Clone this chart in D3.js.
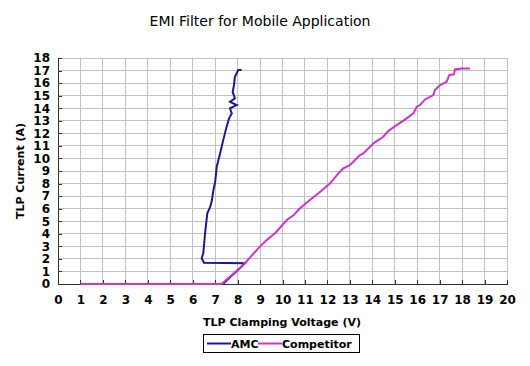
<!DOCTYPE html>
<html>
<head>
<meta charset="utf-8">
<script src="https://cdn.jsdelivr.net/npm/d3@7"></script>
<style>
body { margin: 0; background: #fff; }
text { font-family: "DejaVu Sans", Verdana, sans-serif; }
</style>
</head>
<body>
<svg id="chart" width="530" height="366"></svg>
<script>
// TLP curves: [voltage, current]
const amcData = [
    [7.35, 0], [7.7, 0.6], [8.0, 1.1], [8.33, 1.65], [6.5, 1.7], [6.4, 2.05],
    [6.47, 2.44], [6.5, 2.97], [6.55, 4.04], [6.6, 4.83], [6.65, 5.63], [6.77, 6.1],
    [6.85, 6.6], [6.92, 7.48], [7.0, 8.1], [7.07, 9.34], [7.22, 10.4], [7.36, 11.46],
    [7.51, 12.52], [7.62, 13.2], [7.74, 13.59], [7.66, 13.99], [7.96, 14.25], [7.66, 14.5],
    [7.88, 14.78], [7.78, 15.3], [7.84, 15.84], [7.88, 16.5], [8.03, 17.04], [8.18, 17.04]
]
const competitorData = [
    [1, 0], [7.29, 0], [7.6, 0.5], [8.0, 1.1], [8.25, 1.51], [8.5, 2.0], [8.8, 2.6],
    [9.0, 3.0], [9.3, 3.5], [9.7, 4.1], [10.19, 5.1], [10.5, 5.5], [10.78, 6.03],
    [11.22, 6.69], [11.6, 7.22], [12.12, 8.02], [12.49, 8.81], [12.71, 9.21], [13.0, 9.47],
    [13.45, 10.27], [13.6, 10.4], [14.05, 11.2], [14.49, 11.73], [14.71, 12.18],
    [15.09, 12.66], [15.53, 13.19], [15.83, 13.59], [15.98, 14.12], [16.12, 14.25],
    [16.35, 14.7], [16.72, 15.05], [16.79, 15.45], [17.02, 15.84], [17.31, 16.1],
    [17.43, 16.64], [17.64, 16.7], [17.68, 17.09], [17.98, 17.17], [18.35, 17.17]
]
const xTicks = d3.range(0, 21)
const yTicks = d3.range(0, 19)
const seriesNames = ["AMC", "Competitor"]
const seriesColors = ["#1a1a8c", "#cc33cc"]

const svg = d3.select('#chart')
const mLeft = 58, mRight = 507, mTop = 58, mBottom = 284

const x = d3.scaleLinear().domain([0, 20]).range([mLeft, mRight])
const y = d3.scaleLinear().domain([0, 18]).range([mBottom, mTop])

// grid
svg.append('g').selectAll('line').data(xTicks.slice(1)).enter().append('line')
    .attr('x1', d => x(d)).attr('x2', d => x(d))
    .attr('y1', mTop).attr('y2', mBottom)
    .attr('stroke', '#c0c0c0').attr('shape-rendering', 'crispEdges')
svg.append('g').selectAll('line').data(yTicks.slice(1)).enter().append('line')
    .attr('x1', mLeft).attr('x2', mRight)
    .attr('y1', d => y(d)).attr('y2', d => y(d))
    .attr('stroke', '#c0c0c0').attr('shape-rendering', 'crispEdges')

// axes
const xAxis = svg.append('g')
    .attr('transform', `translate(0, ${mBottom})`)
    .call(d3.axisBottom(x).tickValues(xTicks).tickSizeInner(-4).tickSizeOuter(0).tickPadding(11))
const yAxis = svg.append('g')
    .attr('transform', `translate(${mLeft}, 0)`)
    .call(d3.axisLeft(y).tickValues(yTicks).tickSizeInner(-4).tickSizeOuter(0).tickPadding(8))

for (const ax of [xAxis, yAxis]) {
    ax.select('.domain').attr('stroke', '#333').attr('shape-rendering', 'crispEdges')
    ax.selectAll('.tick line').attr('stroke', '#333').attr('shape-rendering', 'crispEdges')
    ax.selectAll('.tick text').attr('fill', '#000')
        .style('font-size', '12px').style('font-weight', 'bold')
        .style('font-family', '"DejaVu Sans", Verdana, sans-serif')
}

const line = d3.line().x(d => x(d[0])).y(d => y(d[1]))

svg.append('path').datum(amcData)
    .attr('d', line).attr('fill', 'none')
    .attr('stroke', seriesColors[0]).attr('stroke-width', 2)
svg.append('path').datum(competitorData)
    .attr('d', line).attr('fill', 'none')
    .attr('stroke', seriesColors[1]).attr('stroke-width', 2)

// titles
svg.append('text').attr('x', 260).attr('y', 26)
    .attr('text-anchor', 'middle').style('font-size', '14px')
    .text('EMI Filter for Mobile Application')

svg.append('text').attr('x', 282).attr('y', 326)
    .attr('text-anchor', 'middle').style('font-size', '11px').style('font-weight', 'bold')
    .text('TLP Clamping Voltage (V)')

svg.append('text').attr('transform', `translate(24, 171) rotate(-90)`)
    .attr('text-anchor', 'middle').style('font-size', '11px').style('font-weight', 'bold')
    .text('TLP Current (A)')

// legend
const legend = svg.append('g')
legend.append('rect').attr('x', 203.5).attr('y', 334.5).attr('width', 156).attr('height', 18)
    .attr('fill', '#fff').attr('stroke', '#000')
const legendX = [207, 258]
seriesNames.forEach((name, i) => {
    legend.append('line')
        .attr('x1', legendX[i]).attr('x2', legendX[i] + 24)
        .attr('y1', 343.5).attr('y2', 343.5)
        .attr('stroke', seriesColors[i]).attr('stroke-width', 2)
    legend.append('text').attr('x', legendX[i] + 24).attr('y', 348)
        .style('font-size', '11px').style('font-weight', 'bold')
        .text(name)
})
</script>
</body>
</html>
